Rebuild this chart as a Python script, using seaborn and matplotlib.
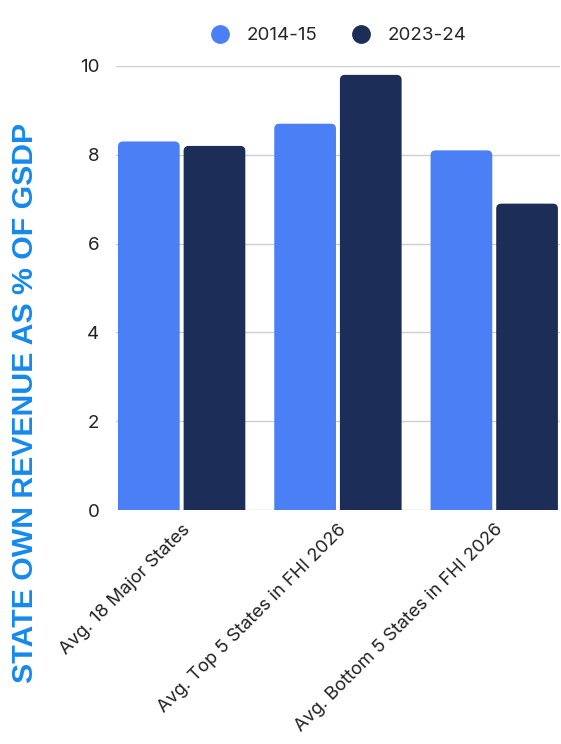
import matplotlib
matplotlib.use("Agg")
import matplotlib.pyplot as plt
from matplotlib.patches import FancyBboxPatch
import seaborn as sns
import pandas as pd

categories = ["Avg. 18 Major States", "Avg. Top 5 States in FHI 2026", "Avg. Bottom 5 States in FHI 2026"]
series_names = ["2014-15", "2023-24"]
values_2014 = [8.3, 8.7, 8.1]
values_2023 = [8.2, 9.8, 6.9]
y_ticks = [0, 2, 4, 6, 8, 10]

colors = {"2014-15": "#4A7FF5", "2023-24": "#1C2D58"}

df = pd.DataFrame({
    "category": categories * 2,
    "period": [series_names[0]] * 3 + [series_names[1]] * 3,
    "value": values_2014 + values_2023,
})

sns.set_theme(style="white")
plt.rcParams["font.family"] = ["Inter", "DejaVu Sans"]

fig = plt.figure(figsize=(5.61, 7.44), dpi=100)
ax = fig.add_axes([0.2068, 0.3145, 0.7912, 0.5968])

sns.barplot(data=df, x="category", y="value", hue="period", palette=colors,
            width=0.84, gap=0.06, ax=ax, legend=False, saturation=1)

ax.set_xlim(-0.42, 2.42)
ax.set_ylim(0, 10)

# Replace plain rectangles with top-rounded bars
px_per_x = 0.7912 * 561 / (2.84)
px_per_y = 0.5968 * 744 / 10
r_px = 5
for p in list(ax.patches):
    x, w, h = p.get_x(), p.get_width(), p.get_height()
    fc = p.get_facecolor()
    p.remove()
    fb = FancyBboxPatch((x, -1.0), w, h + 1.0,
                        boxstyle=f"round,pad=0,rounding_size={r_px / px_per_x}",
                        mutation_aspect=px_per_x / px_per_y,
                        facecolor=fc, edgecolor="none", zorder=3)
    ax.add_patch(fb)

ax.set_yticks(y_ticks)
ax.set_yticklabels([str(t) for t in y_ticks], fontsize=13.5, color="#222222")
ax.yaxis.grid(True, color="#cfcfcf", linewidth=1.0, zorder=0)
ax.set_axisbelow(True)
ax.tick_params(axis="both", length=0)
ax.tick_params(axis="y", pad=12)
for s in ax.spines.values():
    s.set_visible(False)

ax.set_xticks(range(len(categories)))
ax.set_xticklabels(categories, rotation=45, ha="right", rotation_mode="anchor",
                   fontsize=13.2, color="#222222")
ax.tick_params(axis="x", pad=8)
ax.set_xlabel("")
ax.set_ylabel("STATE OWN REVENUE AS % OF GSDP", fontsize=21.8, fontweight="bold",
              color="#1589EE", family=["Liberation Sans", "DejaVu Sans"])
ax.yaxis.set_label_coords(-0.173, 0.241)

# Legend with round markers
handles = [plt.Line2D([], [], marker="o", linestyle="", markersize=12.5,
                      markerfacecolor=colors[n], markeredgecolor=colors[n]) for n in series_names]
fig.legend(handles, series_names, loc="center", bbox_to_anchor=(0.595, 0.952), ncol=2,
           frameon=False, fontsize=13.5, handletextpad=0.45, columnspacing=1.3)

fig.savefig("out.png", dpi=100, facecolor="white")
